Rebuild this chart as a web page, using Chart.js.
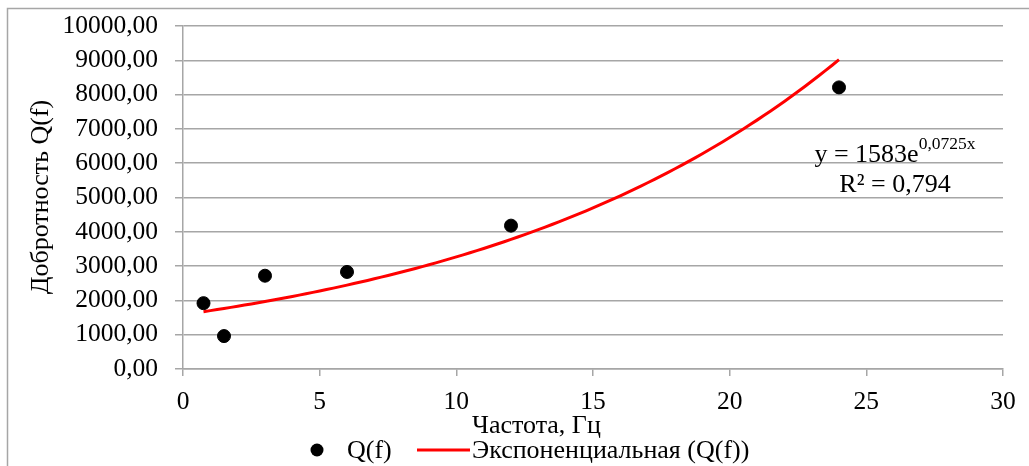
<!DOCTYPE html>
<html lang="ru">
<head>
<meta charset="utf-8">
<title>Добротность Q(f)</title>
<script src="https://cdn.jsdelivr.net/npm/chart.js@4.4.1/dist/chart.umd.min.js"></script>
<style>
  html, body { margin: 0; padding: 0; background: #fff; }
  #wrap { position: relative; width: 1029px; height: 466px; }
</style>
</head>
<body>
<div id="wrap"><canvas id="c" width="1029" height="466"></canvas></div>
<script>
// Measured frequencies (Hz) and quality factor values
const frequencies = [0.75, 1.5, 3, 6, 12, 24];
const qValues = [1920, 960, 2720, 2830, 4180, 8210];

// Exponential trendline y = a * e^(b x), R²
const trendA = 1583;
const trendB = 0.0725;
const trendR2 = '0,794';
const trendFrom = 0.75;
const trendTo = 24;

const seriesLabel = 'Q(f)';
const trendLabel = 'Экспоненциальная (Q(f))';
const xTitle = 'Частота, Гц';
const yTitle = 'Добротность Q(f)';

const trendPoints = [];
for (let i = 0; i <= 93; i++) {
  const x = trendFrom + (trendTo - trendFrom) * i / 93;
  trendPoints.push({ x: x, y: trendA * Math.exp(trendB * x) });
}

const FONT = '"Liberation Serif", "Times New Roman", serif';
const GRID = '#a6a6a6';
const TXT = 26;

const fmt = v => v.toFixed(2).replace('.', ',');

const decorations = {
  id: 'decorations',
  afterDraw(chart) {
    const ctx = chart.ctx;
    ctx.save();
    // outer frame
    ctx.strokeStyle = '#a6a6a6';
    ctx.lineWidth = 1.5;
    ctx.beginPath();
    ctx.moveTo(7.5, 466);
    ctx.lineTo(7.5, 8.5);
    ctx.lineTo(1029, 8.5);
    ctx.stroke();

    ctx.fillStyle = '#000';
    ctx.font = TXT + 'px ' + FONT;

    // y axis title
    ctx.save();
    ctx.translate(41, 197);
    ctx.rotate(-Math.PI / 2);
    ctx.textAlign = 'center';
    ctx.textBaseline = 'middle';
    ctx.fillText(yTitle, 0, 0);
    ctx.restore();

    // x axis title
    ctx.textAlign = 'left';
    ctx.textBaseline = 'alphabetic';
    ctx.fillText(xTitle, 472, 433);

    // legend
    const ly = 450;
    ctx.beginPath();
    ctx.arc(317, ly, 6.5, 0, Math.PI * 2);
    ctx.fill();
    ctx.fillText(seriesLabel, 347, 458);
    ctx.strokeStyle = '#ff0000';
    ctx.lineWidth = 3;
    ctx.beginPath();
    ctx.moveTo(417, ly);
    ctx.lineTo(470, ly);
    ctx.stroke();
    ctx.fillText(trendLabel, 472, 458);

    // trendline equation
    const main = 'y = ' + trendA + 'e';
    const supText = String(trendB).replace('.', ',') + 'x';
    ctx.font = TXT + 'px ' + FONT;
    const wMain = ctx.measureText(main).width;
    ctx.font = '17.5px ' + FONT;
    const wSup = ctx.measureText(supText).width;
    const cx = 895;
    const x0 = cx - (wMain + wSup) / 2;
    ctx.font = TXT + 'px ' + FONT;
    ctx.fillText(main, x0, 162);
    ctx.font = '17.5px ' + FONT;
    ctx.fillText(supText, x0 + wMain, 149);
    ctx.font = TXT + 'px ' + FONT;
    ctx.textAlign = 'center';
    ctx.fillText('R² = ' + trendR2, cx, 192);
    ctx.restore();
  }
};

new Chart(document.getElementById('c'), {
  type: 'scatter',
  data: {
    datasets: [
      {
        label: seriesLabel,
        data: frequencies.map((f, i) => ({ x: f, y: qValues[i] })),
        backgroundColor: '#000',
        borderColor: '#000',
        pointRadius: 6.5,
        pointHoverRadius: 6.5,
        order: 1
      },
      {
        type: 'line',
        label: trendLabel,
        data: trendPoints,
        borderColor: '#ff0000',
        borderWidth: 3,
        pointRadius: 0,
        fill: false,
        tension: 0,
        order: 2
      }
    ]
  },
  options: {
    responsive: false,
    animation: false,
    layout: { padding: { top: 26, right: 26, left: 0, bottom: 0 } },
    plugins: {
      legend: { display: false },
      tooltip: { enabled: false }
    },
    scales: {
      x: {
        type: 'linear',
        min: 0, max: 30,
        ticks: {
          stepSize: 5,
          color: '#000',
          font: { family: FONT, size: 25.5 },
          padding: 11,
          maxRotation: 0
        },
        grid: {
          drawOnChartArea: false,
          drawTicks: true,
          tickLength: 7,
          color: GRID,
          lineWidth: 1.5
        },
        border: { display: true, color: GRID, width: 1.5 },
        afterFit(scale) { scale.height = 97; }
      },
      y: {
        min: 0, max: 10000,
        ticks: {
          stepSize: 1000,
          color: '#000',
          font: { family: FONT, size: 25.5, lineHeight: 0.6 },
          padding: 17,
          callback: v => fmt(v)
        },
        grid: {
          drawTicks: true,
          tickLength: 8,
          color: GRID,
          lineWidth: 1.5
        },
        border: { display: true, color: GRID, width: 1.5 },
        afterFit(scale) { scale.width = 183; }
      }
    }
  },
  plugins: [decorations]
});
</script>
</body>
</html>
